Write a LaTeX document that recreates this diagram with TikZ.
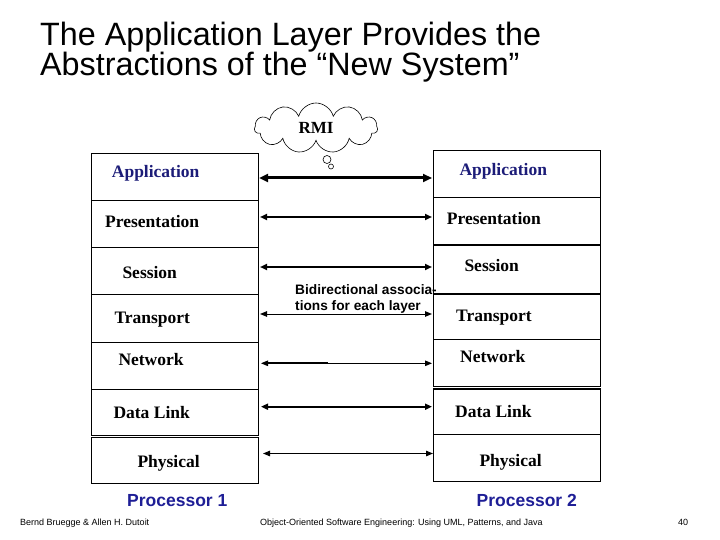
\documentclass[tikz,border=0pt]{standalone}
\usepackage{fontspec}
\setmainfont{Liberation Serif}
\newfontfamily\arial{Liberation Sans}
\usetikzlibrary{arrows.meta,shapes.symbols}
\definecolor{navy}{RGB}{28,28,120}
\definecolor{procblue}{RGB}{30,30,150}
\tikzset{
  layerbox/.style={draw, line width=1.2pt, rectangle, inner sep=0pt, anchor=north west},
  lbox/.style={layerbox, minimum width=167.5pt},
  rbox/.style={layerbox, minimum width=167.3pt},
  lab/.style={anchor=base west, inner sep=0pt, font=\bfseries\fontsize{17.5}{20}\selectfont},
  thickarr/.style={line width=3pt, {Triangle[length=9pt,width=8pt]}-{Triangle[length=9pt,width=8pt]}},
  medarr/.style={line width=1.8pt, {Triangle[length=7pt,width=6pt]}-{Triangle[length=7pt,width=6pt]}},
  thinarr/.style={line width=1pt, {Triangle[length=7pt,width=5.5pt]}-{Triangle[length=7pt,width=5.5pt]}},
  proc/.style={anchor=base west, inner sep=0pt, text=procblue, font=\arial\bfseries\fontsize{17.5}{20}\selectfont},
  foot/.style={anchor=base west, inner sep=0pt, font=\arial\fontsize{9}{10}\selectfont},
  titletext/.style={anchor=base west, inner sep=0pt, font=\arial\fontsize{32.3}{30}\selectfont}
}
\begin{document}
\begin{tikzpicture}[x=1pt,y=-1pt]
\useasboundingbox (0,0) rectangle (720,540);
% title
\node[titletext] (t1) at (40,46) {The Application Layer Provides the};
\node[titletext] (t2) at (40,76) {Abstractions of the “New System”};
% left stack
\node[lbox, minimum height=47.3pt] (Lapp) at (90.5,152.7) {};
\node[lbox, minimum height=46.7pt] (Lpres) at (90.5,200) {};
\node[lbox, minimum height=47.3pt] (Lses) at (90.5,246.7) {};
\node[lbox, minimum height=47.5pt] (Ltra) at (90.5,294) {};
\node[lbox, minimum height=47.5pt] (Lnet) at (90.5,341.5) {};
\node[lbox, minimum height=45.5pt] (Ldl) at (90.5,389) {};
\node[lbox, minimum height=46pt] (Lphy) at (90.5,436.7) {};
% right stack
\node[rbox, minimum height=47.3pt] (Rapp) at (432.7,150) {};
\node[rbox, minimum height=47pt] (Rpres) at (432.7,197.3) {};
\node[rbox, minimum height=49pt] (Rses) at (432.7,244.3) {};
\node[rbox, minimum height=45.5pt] (Rtra) at (432.7,293.3) {};
\node[rbox, minimum height=47.2pt] (Rnet) at (432.7,338.8) {};
\node[rbox, minimum height=45.7pt] (Rdl) at (432.7,388.3) {};
\node[rbox, minimum height=47pt] (Rphy) at (432.7,434) {};
% left labels
\node[lab, text=navy] (lt1) at (111.7,177.3) {Application};
\node[lab] (lt2) at (105,227.3) {Presentation};
\node[lab] (lt3) at (122.3,278.3) {Session};
\node[lab] (lt4) at (114.3,323.3) {Transport};
\node[lab] (lt5) at (118.3,365) {Network};
\node[lab] (lt6) at (113.3,418.3) {Data Link};
\node[lab] (lt7) at (137.3,467.3) {Physical};
% right labels
\node[lab, text=navy] (rt1) at (459.3,176) {Application};
\node[lab] (rt2) at (446.7,224.3) {Presentation};
\node[lab] (rt3) at (464.3,271.7) {Session};
\node[lab] (rt4) at (456,321.7) {Transport};
\node[lab] (rt5) at (460,362.7) {Network};
\node[lab] (rt6) at (455,417.3) {Data Link};
\node[lab] (rt7) at (479.3,466) {Physical};
% arrow end points
\coordinate (a1L) at (259,178);   \coordinate (a1R) at (432,178);
\coordinate (a2L) at (260,217);   \coordinate (a2R) at (432,217);
\coordinate (a3L) at (260,267);   \coordinate (a3R) at (432,267);
\coordinate (a4L) at (260,314);   \coordinate (a4R) at (432,314);
\coordinate (a5L) at (261,363.3); \coordinate (a5M) at (328,363.3); \coordinate (a5R) at (432,363.3);
\coordinate (a6L) at (261,406.7); \coordinate (a6R) at (432,406.7);
\coordinate (a7L) at (263,453.5); \coordinate (a7R) at (433,453.5);
\draw[thickarr] (a1L) -- (a1R);
\draw[medarr] (a2L) -- (a2R);
\draw[medarr] (a3L) -- (a3R);
\draw[thinarr] (a4L) -- (a4R);
\draw[thinarr] (a5L) -- (a5R);
\draw[line width=2pt] ([xshift=4pt]a5L) -- (a5M);
\draw[medarr] (a6L) -- (a6R);
\draw[thinarr] (a7L) -- (a7R);
% bidirectional text
\node[anchor=north west, inner sep=0pt, align=left, font=\arial\bfseries\fontsize{13.7}{16}\selectfont] (bidir) at (295,284.2) {Bidirectional associa-\\tions for each layer};
% RMI cloud
\node[cloud, draw, line width=0.6pt, cloud puffs=11, aspect=2.5, minimum width=123pt, minimum height=50pt, inner sep=0pt, font=\bfseries\fontsize{17}{20}\selectfont] (rmi) at (316,128) {RMI};
\node[circle, draw, line width=0.6pt, minimum size=8pt, inner sep=0pt] (b1) at (327,159.5) {};
\node[circle, draw, line width=0.6pt, minimum size=5pt, inner sep=0pt] (b2) at (331,166.5) {};
% processors
\node[proc] (p1) at (127,506) {Processor 1};
\node[proc] (p2) at (476.5,506.5) {Processor 2};
% footer
\node[foot] (f1) at (20,525) {Bernd Bruegge \& Allen H. Dutoit};
\node[foot] (f2) at (260,525) {Object-Oriented Software Engineering: Using UML, Patterns, and Java};
\node[foot] (f3) at (678,525) {40};
\end{tikzpicture}
\end{document}
